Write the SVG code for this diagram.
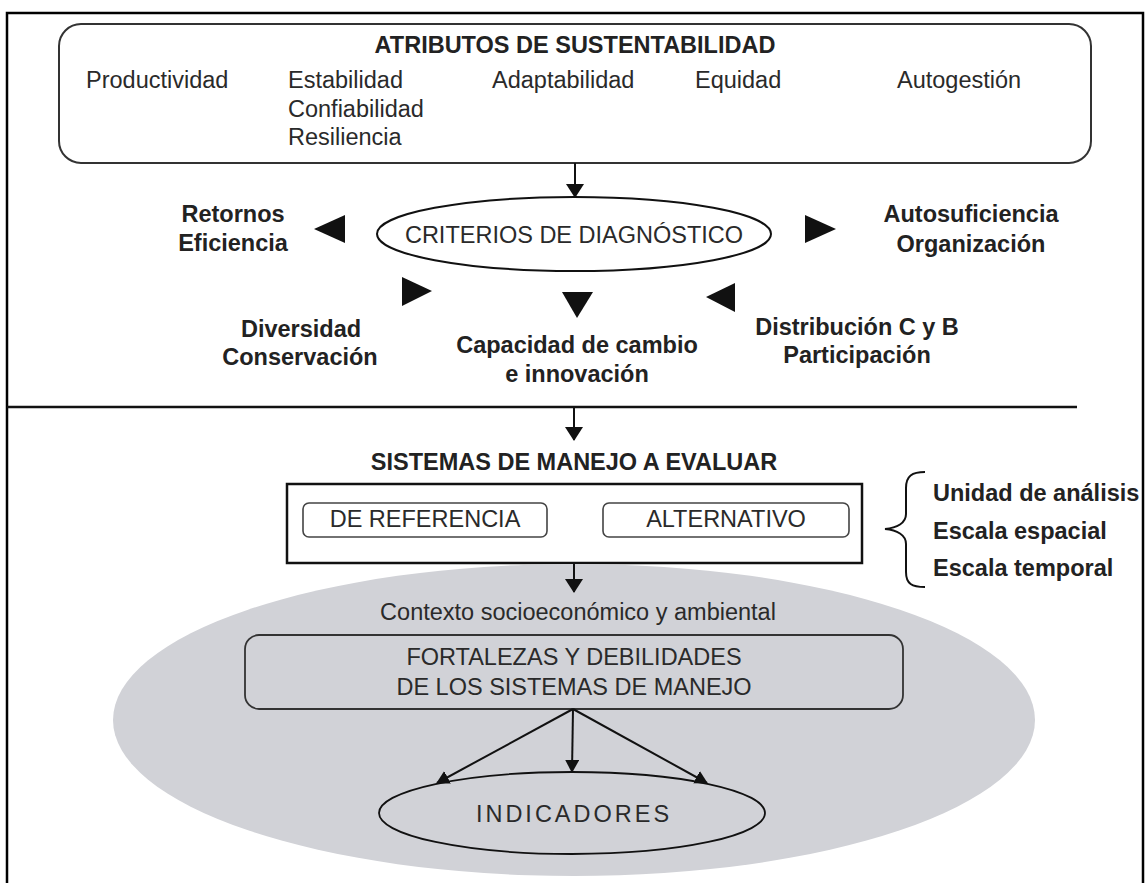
<svg xmlns="http://www.w3.org/2000/svg" width="1147" height="883" viewBox="0 0 1147 883">
  <defs>
    <marker id="head" markerWidth="14" markerHeight="18" refX="13" refY="9" orient="auto" markerUnits="userSpaceOnUse">
      <path d="M0,0 L14,9 L0,18 z" fill="#111"/>
    </marker>
    <marker id="headSmall" markerWidth="13" markerHeight="14" refX="12" refY="7" orient="auto" markerUnits="userSpaceOnUse">
      <path d="M0,0 L13,7 L0,14 z" fill="#111"/>
    </marker>
  </defs>
  <style>
    .t { font-family: "Liberation Sans", Arial, Helvetica, sans-serif; font-size: 23.5px; fill: #2a2a2a; }
    .b { font-weight: bold; fill: #222; }
    .m { text-anchor: middle; }
    .conn { stroke: #111; stroke-width: 2; fill: none; }
    .tri { fill: #111; }
    .box { fill: none; stroke: #333; stroke-width: 2; }
  </style>

  <rect width="1147" height="883" fill="#fff"/>

  <!-- outer frame and section divider -->
  <g id="frame">
    <path d="M7,890 L7,13 L1143,13 L1143,890" fill="none" stroke="#000" stroke-width="2.5"/>
    <line x1="7" y1="407" x2="1077" y2="407" stroke="#111" stroke-width="2.5"/>
  </g>

  <!-- sustainability attributes -->
  <g id="atributos">
    <rect class="box" x="59" y="24" width="1032" height="139" rx="22"/>
    <text class="t b m" x="575" y="53">ATRIBUTOS DE SUSTENTABILIDAD</text>
    <text class="t" x="86" y="88">Productividad</text>
    <text class="t" x="288" y="88">Estabilidad</text>
    <text class="t" x="288" y="117">Confiabilidad</text>
    <text class="t" x="288" y="145">Resiliencia</text>
    <text class="t" x="492" y="88">Adaptabilidad</text>
    <text class="t" x="695" y="88">Equidad</text>
    <text class="t" x="897" y="88">Autogestión</text>
  </g>

  <!-- diagnostic criteria -->
  <g id="criterios">
    <ellipse cx="574" cy="234" rx="197" ry="37" fill="#fff" stroke="#111" stroke-width="2"/>
    <text class="t m" x="574" y="243">CRITERIOS DE DIAGNÓSTICO</text>
  </g>

  <g id="retornos">
    <text class="t b m" x="233" y="222">Retornos</text>
    <text class="t b m" x="233" y="251">Eficiencia</text>
  </g>
  <g id="autosuficiencia">
    <text class="t b m" x="971" y="222">Autosuficiencia</text>
    <text class="t b m" x="971" y="252">Organización</text>
  </g>
  <g id="diversidad">
    <text class="t b m" x="301" y="337">Diversidad</text>
    <text class="t b m" x="300" y="365">Conservación</text>
  </g>
  <g id="capacidad">
    <text class="t b m" x="577" y="353">Capacidad de cambio</text>
    <text class="t b m" x="577" y="382">e innovación</text>
  </g>
  <g id="distribucion">
    <text class="t b m" x="857" y="335">Distribución C y B</text>
    <text class="t b m" x="857" y="363">Participación</text>
  </g>

  <!-- management systems to evaluate -->
  <g id="sistemas">
    <text class="t b m" x="574" y="470">SISTEMAS DE MANEJO A EVALUAR</text>
    <rect x="287" y="484" width="575" height="79" fill="#fff" stroke="#111" stroke-width="2.5"/>
  </g>
  <g id="referencia">
    <rect x="303" y="503" width="244" height="34" rx="6" fill="#fff" stroke="#444" stroke-width="1.6"/>
    <text class="t m" x="425" y="527">DE REFERENCIA</text>
  </g>
  <g id="alternativo">
    <rect x="603" y="503" width="246" height="34" rx="6" fill="#fff" stroke="#444" stroke-width="1.6"/>
    <text class="t m" x="726" y="527">ALTERNATIVO</text>
  </g>
  <g id="escalas">
    <path d="M925,472 C912,472 906,476 906,488 L906,514 C906,523 897,528 885,529 C897,530 906,535 906,544 L906,572 C906,584 912,587 925,587" fill="none" stroke="#111" stroke-width="2"/>
    <text class="t b" x="933" y="501">Unidad de análisis</text>
    <text class="t b" x="933" y="539">Escala espacial</text>
    <text class="t b" x="933" y="576">Escala temporal</text>
  </g>

  <!-- context -->
  <g id="contexto">
    <ellipse cx="574" cy="720" rx="461" ry="156" fill="#d1d2d7"/>
    <text class="t m" x="578" y="620">Contexto socioeconómico y ambiental</text>
  </g>
  <g id="fortalezas">
    <rect x="245" y="635" width="658" height="74" rx="14" fill="none" stroke="#333" stroke-width="1.8"/>
    <text class="t m" x="574" y="665">FORTALEZAS Y DEBILIDADES</text>
    <text class="t m" x="574" y="695">DE LOS SISTEMAS DE MANEJO</text>
  </g>
  <g id="indicadores">
    <ellipse cx="572" cy="813" rx="193" ry="41" fill="none" stroke="#111" stroke-width="1.8"/>
    <text class="t m" x="574" y="822" letter-spacing="3">INDICADORES</text>
  </g>

  <!-- connectors -->
  <g id="connectors">
    <line class="conn" x1="575" y1="163" x2="575" y2="197" marker-end="url(#head)"/>
    <line class="conn" x1="574" y1="407" x2="574" y2="440" marker-end="url(#head)"/>
    <line class="conn" x1="574" y1="563" x2="574" y2="592" marker-end="url(#head)"/>
    <line class="conn" x1="573" y1="709" x2="437" y2="783" marker-end="url(#headSmall)"/>
    <line class="conn" x1="573" y1="709" x2="572" y2="772" marker-end="url(#headSmall)"/>
    <line class="conn" x1="573" y1="709" x2="707" y2="783" marker-end="url(#headSmall)"/>
    <polygon class="tri" points="314,229 345,215 345,243"/>
    <polygon class="tri" points="836,229 805,215 805,243"/>
    <polygon class="tri" points="432,291 402,277 402,306"/>
    <polygon class="tri" points="562,292 593,292 577,318"/>
    <polygon class="tri" points="706,297 735,283 735,312"/>
  </g>
</svg>
